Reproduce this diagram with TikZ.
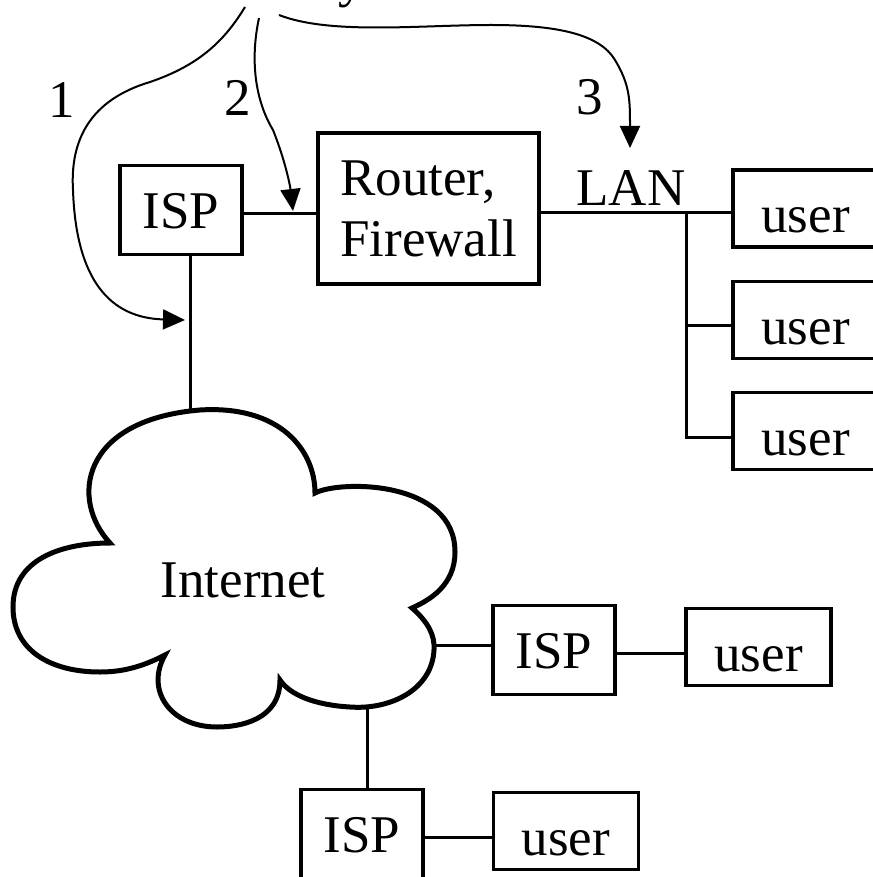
\documentclass[tikz,border=0pt]{standalone}
\usepackage{fontspec}
\setmainfont{Liberation Serif}
\usetikzlibrary{arrows.meta}
\tikzstyle{ispbox}=[rectangle,draw=black,line width=1.75pt,minimum width=61pt,minimum height=44.5pt,inner sep=0pt,text height=18pt,text depth=0pt]
\tikzstyle{userbox}=[rectangle,draw=black,line width=1.75pt,minimum width=72.5pt,minimum height=38.5pt,inner sep=0pt,text height=24pt,text depth=0pt]
\tikzstyle{link}=[line width=1.5pt]
\tikzstyle{hint}=[-{Triangle[length=11pt,width=10pt]}, line width=1pt]

\begin{document}
\begin{tikzpicture}[x=0.5pt,y=-0.5pt,font=\fontsize{26.5}{30.5}\selectfont]
\useasboundingbox (0,0) rectangle (872,877);
% boxes
\node[ispbox] (isp1) at (181,210) {ISP};
\node[rectangle,draw=black,line width=1.75pt,minimum width=110.5pt,minimum height=75.5pt,align=left] (router) at (428.5,208.5) {Router,\\Firewall};
\node[userbox] (u1) at (805.5,208.5) {user};
\node[userbox] (u2) at (805.5,320) {user};
\node[userbox] (u3) at (805.5,431) {user};
\node (lantxt) at (631,188) {LAN};
\node[ispbox] (isp2) at (554,650) {ISP};
\node[userbox] (u4) at (758.5,647) {user};
\node[ispbox] (isp3) at (362,834) {ISP};
\node[userbox] (u5) at (566,831) {user};
% the cloud
\draw[line width=2.5pt,line join=miter] (110,543) .. controls (70,500) and (80,420) .. (200,410)
  .. controls (280,405) and (315,450) .. (315,493)
  .. controls (340,480) and (455,480) .. (455,552)
  .. controls (455,585) and (430,600) .. (412,608)
  .. controls (428,622) and (435,635) .. (434,650)
  .. controls (432,690) and (390,710) .. (350,707)
  .. controls (315,705) and (290,695) .. (280,680)
  .. controls (280,720) and (240,727) .. (217,727)
  .. controls (170,727) and (145,690) .. (165,655)
  .. controls (140,668) and (120,672) .. (100,672)
  .. controls (50,672) and (13,650) .. (13,607)
  .. controls (13,560) and (60,543) .. (110,543) -- cycle;
\node (inet) at (243,580) {Internet};
\coordinate (ct) at (190,410);
\coordinate (cr) at (434,645);
\coordinate (cb) at (367,709);
% links
\coordinate (lan) at (686,213);
\coordinate (lan2) at (686,325);
\coordinate (lan3) at (686,437);
\draw[link] (isp1.east |- 0,214) -- (router.west |- 0,214);
\draw[link] (ct |- isp1.south) -- (ct);
\draw[link] (lan -| router.east) -- (lan -| u1.west);
\draw[link] (lan) -- (lan3) -- (lan3 -| u3.west);
\draw[link] (lan2) -- (lan2 -| u2.west);
\draw[link] (cr) -- (cr -| isp2.west);
\draw[link] (isp2.east |- 0,653) -- (u4.west |- 0,653);
\draw[link] (cb) -- (cb |- isp3.north);
\draw[link] (isp3.east |- 0,837) -- (u5.west |- 0,837);
% the three places
\node (n1) at (62,100) {1};
\node (n2) at (238,98) {2};
\node (n3) at (590,97) {3};
\node[anchor=base] (cut) at (352,-3) {y};
\coordinate (s1) at (245,7);
\coordinate (s2) at (259,18);
\coordinate (s3) at (279,15);
\coordinate (t1) at (185,320);
\coordinate (t2) at (293,211);
\coordinate (t3) at (630,148);
\draw[hint] (s1) .. controls (225,40) and (200,65) .. (150,82) .. controls (90,100) and (70,140) .. (73,190) .. controls (76,280) and (110,318) .. (t1);
\draw[hint] (s2) .. controls (250,60) and (255,100) .. (273,130) .. controls (285,160) and (290,185) .. (t2);
\draw[hint] (s3) .. controls (330,35) and (420,25) .. (491,25) .. controls (560,25) and (600,35) .. (615,60) .. controls (630,85) and (630,100) .. (t3);
\end{tikzpicture}
\end{document}
